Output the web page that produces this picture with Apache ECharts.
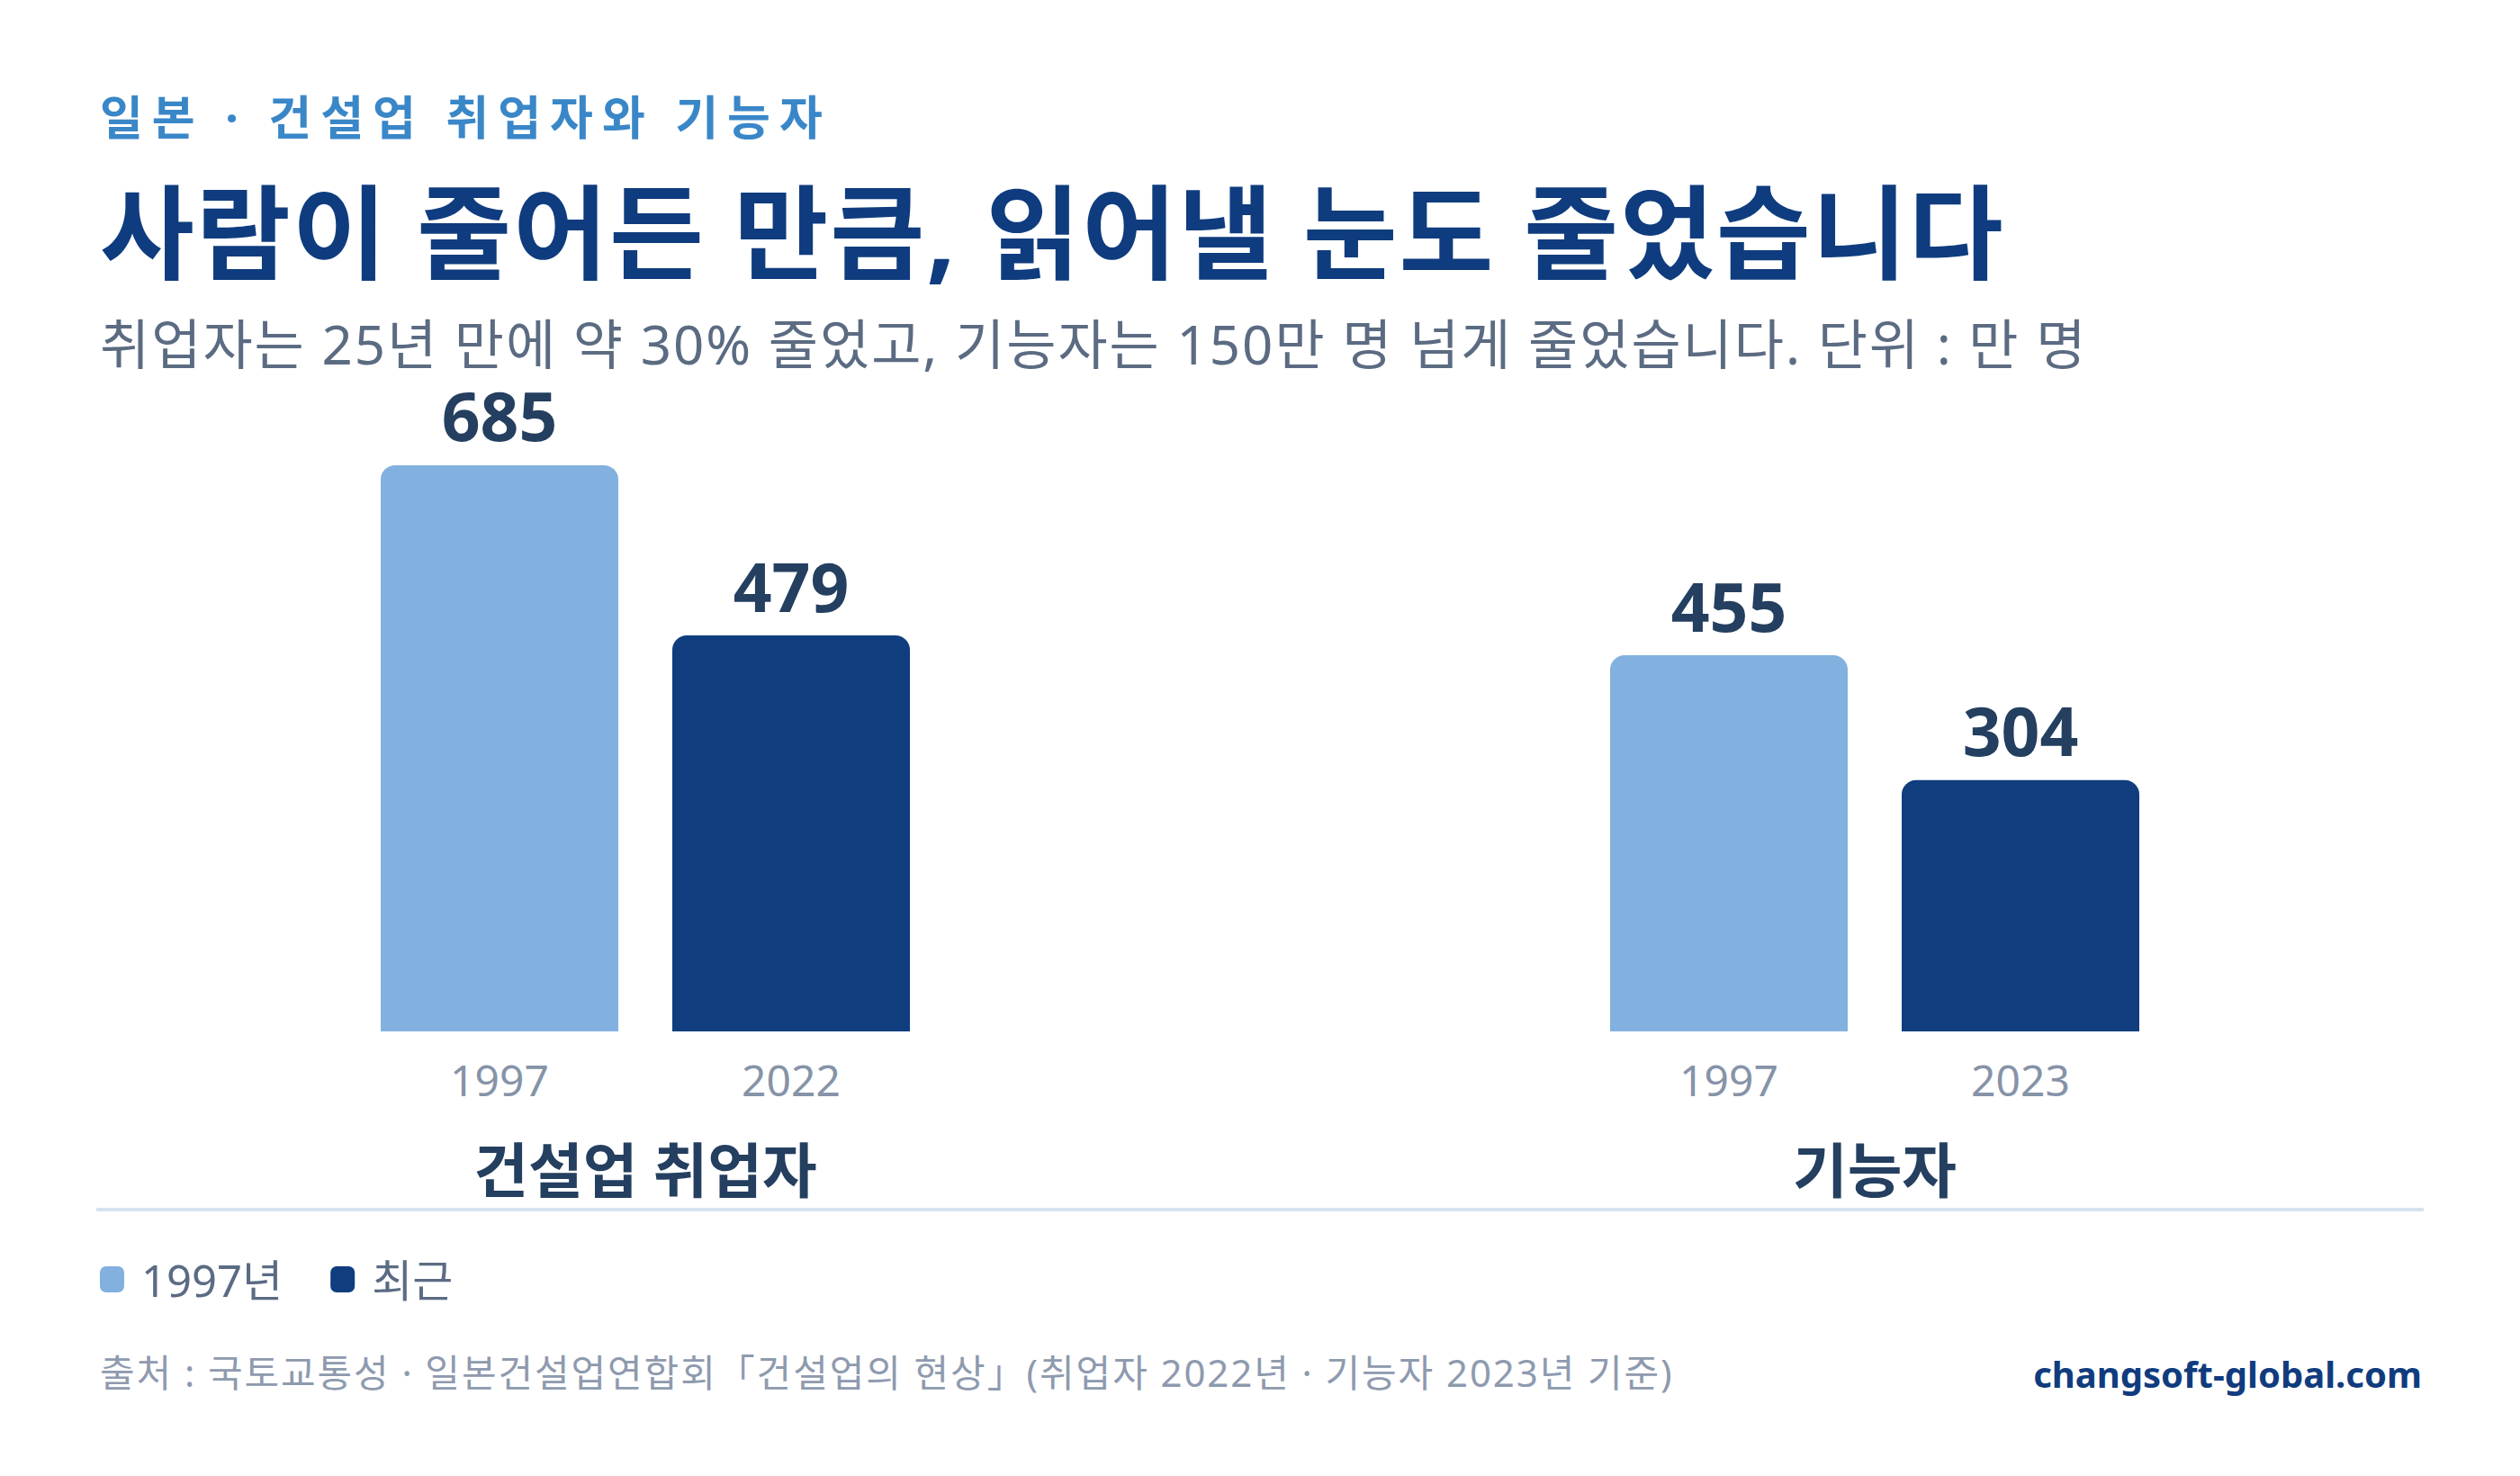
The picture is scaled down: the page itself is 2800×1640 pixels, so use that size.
<!DOCTYPE html>
<html>
<head>
<meta charset="utf-8">
<script src="https://cdn.jsdelivr.net/npm/echarts@6/dist/echarts.min.js"></script>
<style>
  html, body { margin: 0; padding: 0; background: #ffffff; }
  #chart { width: 2800px; height: 1640px; }
  /* 제목 글자 간격 (svg 렌더러의 text 요소) */
  #chart text[fill="#3a87c8"] { letter-spacing: 10px; }
  #chart text[fill="#0f3c7e"] { letter-spacing: 2px; }
  #chart text[fill="#5b6b82"] { letter-spacing: 2px; }
  #chart text[fill="#8e9aae"] { letter-spacing: 1.9px; }
</style>
</head>
<body>
<div id="chart"></div>
<script>
// 데이터
const groups = ['건설업 취업자', '기능자'];
const yearLabels = [['1997', '2022'], ['1997', '2023']];
const seriesNames = ['1997년', '최근'];
const values1997 = [685, 455];
const valuesRecent = [479, 304];

const FONT = "'Noto Sans', 'Noto Sans CJK KR', sans-serif";
const colors = ['#82b1df', '#0f3d7e'];

const dom = document.getElementById('chart');
const myChart = echarts.init(dom, null, { renderer: 'svg' });

const gridLefts = [393, 1759];

const grids = groups.map((g, i) => ({
  left: gridLefts[i], width: 648, top: 448, bottom: 494, containLabel: false
}));

const xAxes = groups.map((g, i) => ({
  type: 'category',
  gridIndex: i,
  data: yearLabels[i],
  axisLine: { show: false },
  axisTick: { show: false },
  axisLabel: { color: '#8693a8', fontSize: 48, fontFamily: FONT, margin: 29 },
  name: g,
  nameLocation: 'middle',
  nameGap: 120,
  nameTextStyle: { color: '#243f5f', fontSize: 66, fontWeight: 'bold', fontFamily: FONT }
}));

const yAxes = groups.map((g, i) => ({
  type: 'value', gridIndex: i, min: 0, max: 760, show: false, splitLine: { show: false }
}));

const series = [];
groups.forEach((g, i) => {
  [values1997, valuesRecent].forEach((vals, k) => {
    const data = yearLabels[i].map((y, j) => (j === k ? vals[i] : '-'));
    series.push({
      name: seriesNames[k],
      type: 'bar',
      xAxisIndex: i,
      yAxisIndex: i,
      stack: 'g' + i,
      barWidth: 264,
      data: data,
      itemStyle: { color: colors[k], borderRadius: [16, 16, 0, 0] },
      label: {
        show: true, position: 'top', distance: 18,
        color: '#243f5f', fontSize: 75, fontWeight: 'bold', fontFamily: FONT
      },
      emphasis: { disabled: true }
    });
  });
});

const option = {
  backgroundColor: '#ffffff',
  animation: false,
  grid: grids,
  xAxis: xAxes,
  yAxis: yAxes,
  legend: {
    data: seriesNames,
    left: 111,
    top: 1397,
    padding: 0,
    icon: 'roundRect',
    itemWidth: 27,
    itemHeight: 29,
    itemGap: 53,
    textStyle: { color: '#5b6b83', fontSize: 49, fontFamily: FONT, padding: [0, 0, 0, 14] }
  },
  graphic: [
    {
      type: 'text', x: 111, y: 129,
      style: { text: '일본 · 건설업 취업자와 기능자', fill: '#3a87c8', font: 'bold 52px ' + FONT, textVerticalAlign: 'middle' }
    },
    {
      type: 'text', x: 111, y: 256,
      style: { text: '사람이 줄어든 만큼, 읽어낼 눈도 줄었습니다', fill: '#0f3c7e', font: 'bold 114px ' + FONT, textVerticalAlign: 'middle' }
    },
    {
      type: 'text', x: 111, y: 382,
      style: { text: '취업자는 25년 만에 약 30% 줄었고, 기능자는 150만 명 넘게 줄었습니다. 단위 : 만 명', fill: '#5b6b82', font: '60px ' + FONT, textVerticalAlign: 'middle' }
    },
    {
      type: 'line',
      shape: { x1: 107, y1: 1344, x2: 2693, y2: 1344 },
      style: { stroke: '#d6e3f1', lineWidth: 4 }
    },
    {
      type: 'text', x: 111, y: 1524,
      style: { text: '출처 : 국토교통성 · 일본건설업연합회「건설업의 현상」(취업자 2022년 · 기능자 2023년 기준)', fill: '#8e9aae', font: '42px ' + FONT, textVerticalAlign: 'middle' }
    },
    {
      type: 'text', x: 2691, y: 1526,
      style: { text: 'changsoft-global.com', fill: '#103c7e', font: 'bold 40px ' + FONT, textAlign: 'right', textVerticalAlign: 'middle' }
    }
  ],
  series: series
};

myChart.setOption(option, true);
</script>
</body>
</html>
